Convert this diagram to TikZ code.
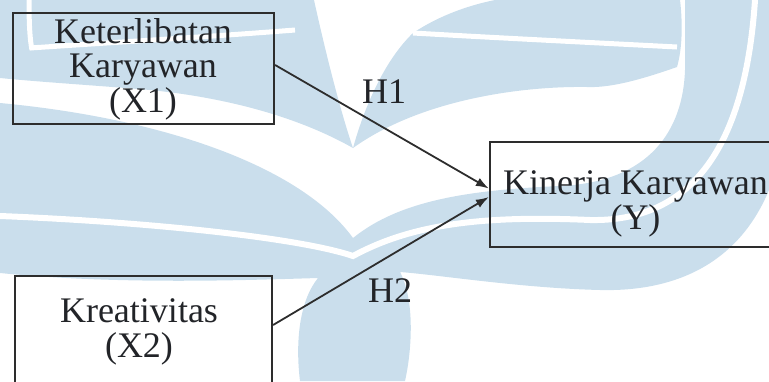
\documentclass[tikz,border=0pt]{standalone}
\usepackage{fontspec}
\setmainfont{Liberation Serif}
\usetikzlibrary{arrows.meta,calc}
\definecolor{wm}{RGB}{202,222,236}
\definecolor{ink}{RGB}{34,36,40}
\definecolor{edge}{RGB}{45,45,45}
\tikzset{
  box/.style={draw=edge,line width=2.2pt,inner sep=0pt,rectangle},
  txt/.style={text=ink,font=\fontsize{36}{34.5}\selectfont,align=center,inner sep=0pt,anchor=base},
  hyp/.style={text=ink,font=\fontsize{36}{34.5}\selectfont,inner sep=0pt,anchor=base west},
  link/.style={draw=edge,line width=1.8pt,-{Latex[length=13pt,width=9pt]}},
  wmstripe/.style={draw=white,line width=5pt}
}
\begin{document}
\begin{tikzpicture}[x=1pt,y=-1pt]
\useasboundingbox (0,0) rectangle (769,381);
\clip (0,0) rectangle (769,381);
% watermark
\fill[wm] (0,103) .. controls (160,118) and (300,165) .. (353,238)
  .. controls (400,200) and (470,190) .. (560,186)
  .. controls (650,182) and (683,130) .. (685,70) -- (685,0) -- (769,0) -- (769,190)
  .. controls (740,260) and (680,292) .. (600,290)
  .. controls (520,288) and (440,275) .. (400,272)
  .. controls (415,300) and (412,350) .. (405,381) -- (300,381)
  .. controls (295,340) and (300,300) .. (318,278)
  .. controls (250,280) and (120,285) .. (0,273) -- cycle;
\draw[wmstripe,line width=6pt] (0,216) .. controls (150,222) and (300,238) .. (353,256)
  .. controls (410,225) and (480,215) .. (590,220)
  .. controls (690,222) and (745,150) .. (755,0);
\fill[wm] (0,0) -- (314,0) .. controls (325,50) and (340,110) .. (353,148)
  .. controls (300,118) and (230,98) .. (150,90)
  .. controls (90,85) and (40,82) .. (0,78) -- cycle;
\draw[wmstripe] (30,48) .. controls (120,42) and (220,36) .. (295,30);
\draw[wmstripe] (29,0) .. controls (29,25) and (30,40) .. (32,50);
\fill[wm] (353,148) .. controls (365,105) and (385,60) .. (413,33)
  .. controls (440,15) and (470,5) .. (495,0) -- (680,0)
  .. controls (683,25) and (682,50) .. (677,67)
  .. controls (640,80) and (610,88) .. (587,87)
  .. controls (520,86) and (420,100) .. (353,148) -- cycle;
\draw[wmstripe] (413,33) .. controls (500,38) and (600,43) .. (677,47);
% boxes
\node[box,minimum width=261pt,minimum height=111pt] (x1) at (143.5,68.5) {};
\node[box,minimum width=291pt,minimum height=105pt] (y) at (635.5,194.5) {};
\node[box,minimum width=257pt,minimum height=114pt] (x2) at (143.5,333) {};
% texts (anchored on the baseline of the last line)
\node[txt] (x1t) at (143,112) {Keterlibatan\\Karyawan\\(X1)};
\node[txt] (yt) at (635.5,229) {Kinerja Karyawan\\(Y)};
\node[txt] (x2t) at (139,357) {Kreativitas\\(X2)};
% connectors
\draw[link] ($(x1.east)+(0,-3.5)$) -- ($(y.west)+(0,-6)$);
\draw[link] ($(x2.east)+(0,-8)$) -- ($(y.west)+(0,2.5)$);
\node[hyp] (h1) at (362,103) {H1};
\node[hyp] (h2) at (368,302) {H2};
\end{tikzpicture}
\end{document}
